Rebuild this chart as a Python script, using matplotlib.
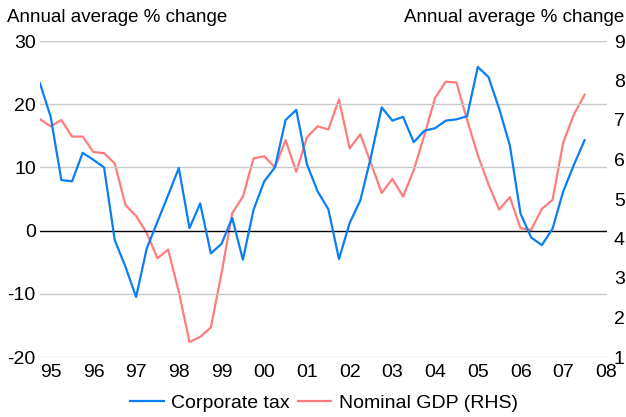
import matplotlib; matplotlib.use("Agg")
import matplotlib.pyplot as plt
import numpy as np

BLUE = "#0a7ff5"; RED = "#ff7c7c"; GRID = "#c8c8c8"
plt.rcParams.update({"font.family": ["Liberation Sans", "DejaVu Sans"], "font.size": 14})

# quarterly, 1995 Q1 .. 2007 Q4
quarters = np.arange(52)
corp_tax = [23.3, 18.0, 8.0, 7.8, 12.3, 11.2, 10.0, -1.5, -5.7, -10.5,
            -2.8, 1.4, 5.6, 9.9, 0.4, 4.3, -3.6, -2.1, 2.0, -4.6,
            3.3, 7.8, 10.0, 17.5, 19.1, 10.5, 6.2, 3.4, -4.5, 1.2,
            4.8, 11.7, 19.5, 17.4, 18.0, 14.0, 15.8, 16.2, 17.4, 17.6,
            18.1, 25.9, 24.3, 19.3, 13.5, 2.7, -1.1, -2.3, 0.3, 6.2,
            10.4, 14.3]
nominal_gdp = [7.02, 6.84, 7.00, 6.58, 6.58, 6.19, 6.16, 5.90, 4.85, 4.57,
               4.14, 3.50, 3.72, 2.65, 1.38, 1.51, 1.75, 3.12, 4.64, 5.06,
               6.03, 6.08, 5.80, 6.49, 5.69, 6.56, 6.84, 6.76, 7.52, 6.28,
               6.64, 5.90, 5.15, 5.51, 5.06, 5.73, 6.62, 7.56, 7.97, 7.95,
               7.00, 6.11, 5.37, 4.73, 5.05, 4.26, 4.22, 4.75, 4.98, 6.43,
               7.14, 7.64]
year_labels = ["95", "96", "97", "98", "99", "00", "01", "02", "03", "04",
               "05", "06", "07", "08"]
left_ticks = [-20, -10, 0, 10, 20, 30]
right_ticks = [1, 2, 3, 4, 5, 6, 7, 8, 9]

fig = plt.figure(figsize=(6.26, 4.17), dpi=100)
ax = fig.add_axes([40/626, 1-357/417, 567/626, 316/417])
ax2 = ax.twinx()

ax.set_ylim(-20, 30); ax2.set_ylim(1, 9)
ax.set_xlim(0, 53.1)
for y in left_ticks:
    ax.axhline(y, color="black" if y == 0 else GRID, lw=1.0, zorder=0)

ln1, = ax.plot(quarters, corp_tax, color=BLUE, lw=1.6, zorder=3)
ln2, = ax2.plot(quarters, nominal_gdp, color=RED, lw=1.6, zorder=2)
ax.set_zorder(ax2.get_zorder() + 1); ax.patch.set_visible(False)

ax.set_yticks(left_ticks)
ax.set_yticklabels([str(t) for t in left_ticks])
ax2.set_yticks(right_ticks)
ax2.set_yticklabels([str(t) for t in right_ticks])
ax.set_xticks(np.arange(0, 4*len(year_labels), 4))
ax.set_xticklabels(year_labels, ha="left")
for a in (ax, ax2):
    for s in a.spines.values():
        s.set_visible(False)
    a.tick_params(length=0, labelsize=14)
ax.tick_params(axis="y", pad=3)
ax2.tick_params(axis="y", pad=5)
ax.tick_params(axis="x", pad=5)

fig.text(7/626, 1-18/417, "Annual average % change", ha="left", va="center", fontsize=13.5)
fig.text(624/626, 1-18/417, "Annual average % change", ha="right", va="center", fontsize=13.5)

fig.legend([ln1, ln2], ["Corporate tax", "Nominal GDP (RHS)"], loc="center",
           bbox_to_anchor=(324/626, 1-403/417), ncol=2, frameon=False,
           fontsize=14, handlelength=1.7, columnspacing=0.4, handletextpad=0.4)

fig.savefig("out.png", dpi=100)
